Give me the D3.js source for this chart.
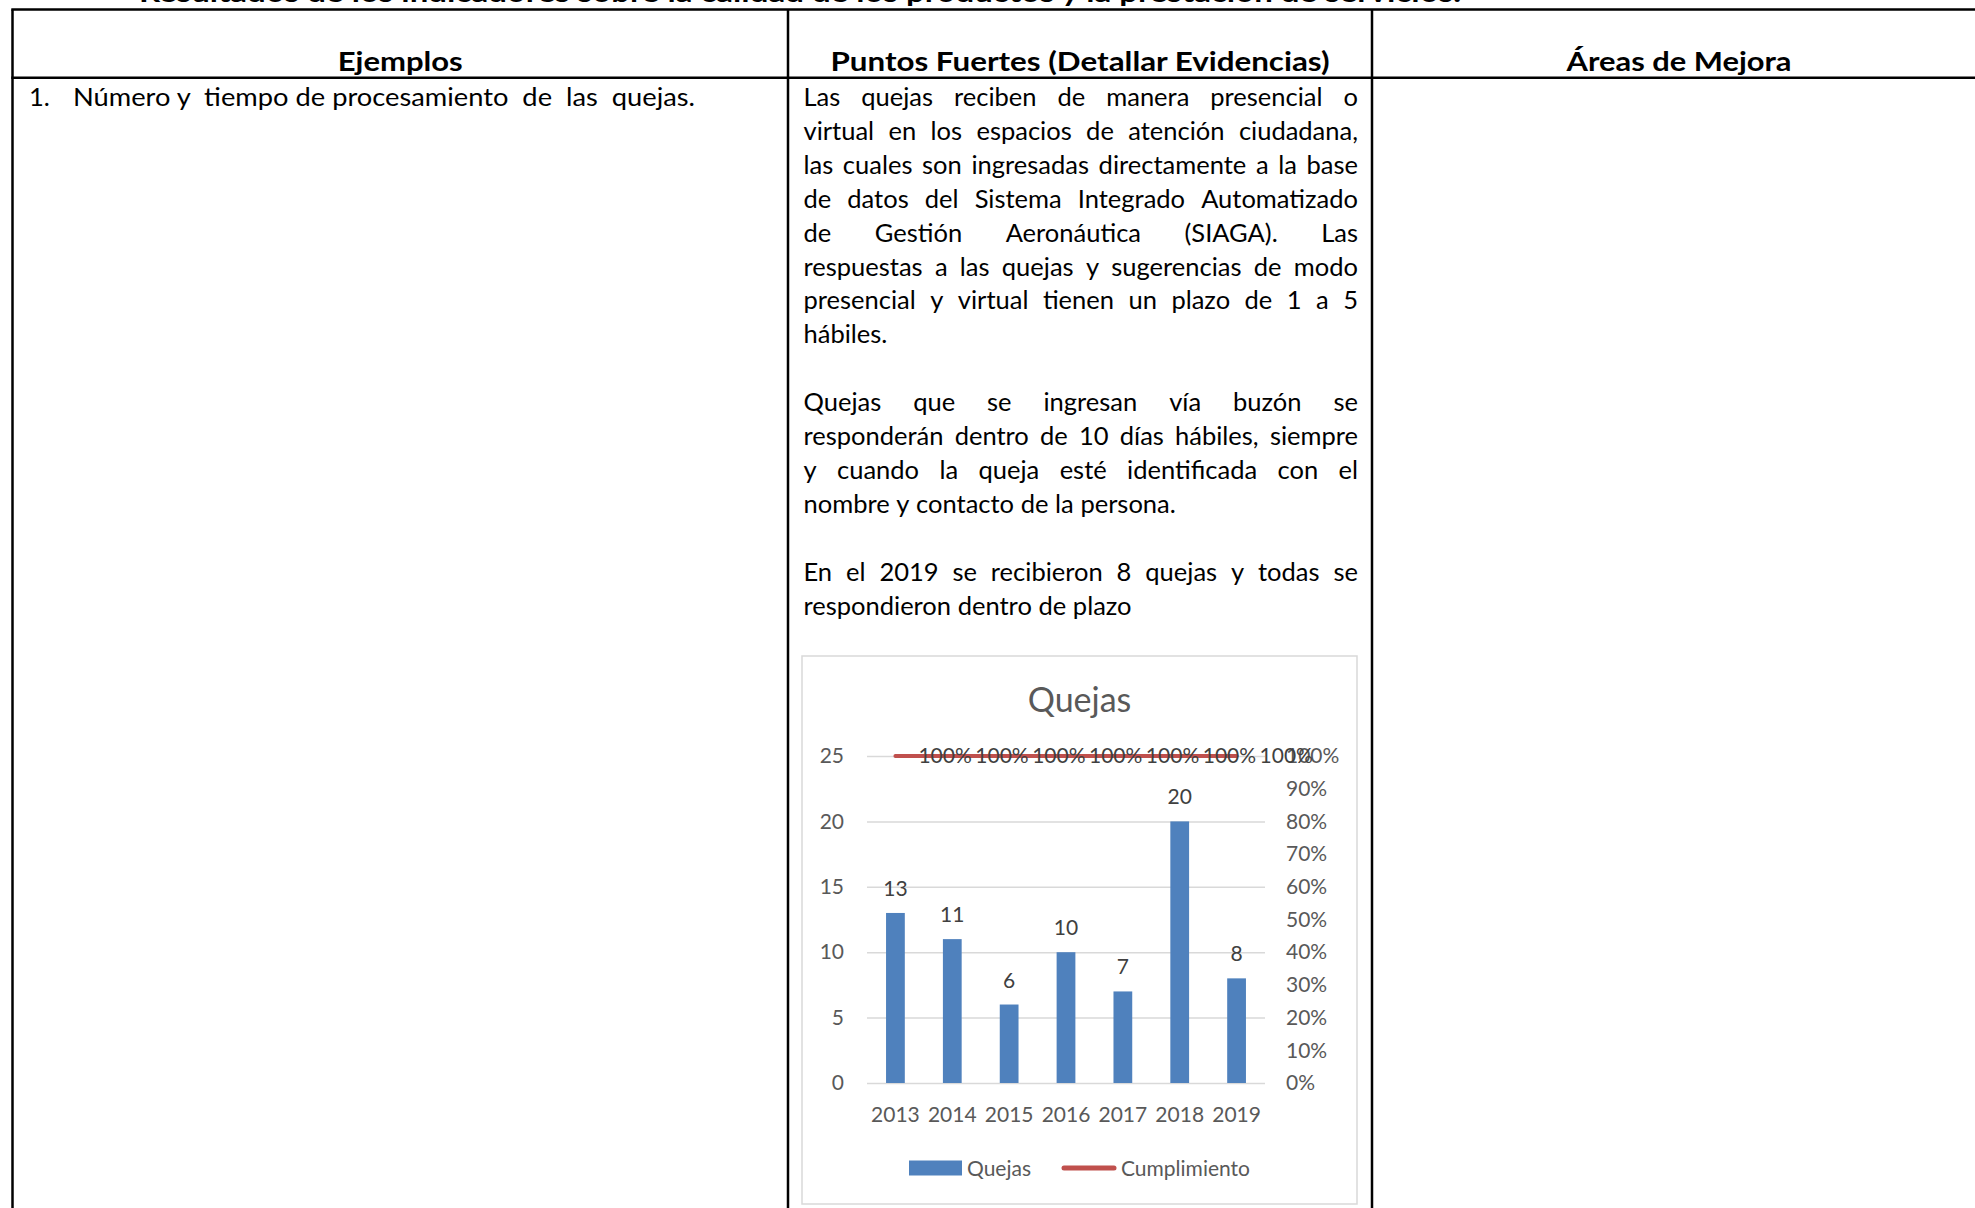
<!DOCTYPE html>
<html>
<head>
<meta charset="utf-8">
<script src="https://cdn.jsdelivr.net/npm/d3@7"></script>
<style>
  body { margin: 0; background: #fff; }
  svg { display: block; font-family: Lato, sans-serif; }
</style>
</head>
<body>
<div id="page"></div>
<script>
// chart data
const years = ['2013', '2014', '2015', '2016', '2017', '2018', '2019']
const quejas = [13, 11, 6, 10, 7, 20, 8]
const cumplimiento = [1, 1, 1, 1, 1, 1, 1]
const leftTicks = [0, 5, 10, 15, 20, 25]
const rightTicks = [0, 0.1, 0.2, 0.3, 0.4, 0.5, 0.6, 0.7, 0.8, 0.9, 1]
const seriesNames = ['Quejas', 'Cumplimiento']

// table text
const topTitle = 'Resultados de los indicadores sobre la calidad de los productos y la prestación de servicios.'
const headers = ['Ejemplos', 'Puntos Fuertes (Detallar Evidencias)', 'Áreas de Mejora']
const itemNumber = '1.'
const itemText = 'Número y  tiempo de procesamiento  de  las  quejas.'
const paragraphs = [
  ['Las quejas reciben de manera presencial o',
   'virtual en los espacios de atención ciudadana,',
   'las cuales son ingresadas directamente a la base',
   'de datos del Sistema Integrado Automatizado',
   'de Gestión Aeronáutica (SIAGA). Las',
   'respuestas a las quejas y sugerencias de modo',
   'presencial y virtual tienen un plazo de 1 a 5',
   'hábiles.'],
  ['Quejas que se ingresan vía buzón se',
   'responderán dentro de 10 días hábiles, siempre',
   'y cuando la queja esté identificada con el',
   'nombre y contacto de la persona.'],
  ['En el 2019 se recibieron 8 quejas y todas se',
   'respondieron dentro de plazo']
]

const W = 1975, H = 1208
const svg = d3.select('#page').append('svg')
  .attr('width', W)
  .attr('height', H)

// table geometry
const colX = [12.5, 788, 1372, 1986]
const rowTop = 9.5
const headBottom = 77.7

// title cut by the top of the page
svg.append('text')
  .attr('x', 139)
  .attr('y', 2)
  .attr('font-weight', 700)
  .attr('font-size', 26)
  .attr('textLength', 1322)
  .attr('lengthAdjust', 'spacingAndGlyphs')
  .attr('fill', '#000')
  .text(topTitle)

// table lines
const grid = svg.append('g').attr('stroke', '#000').attr('stroke-width', 2.5)
grid.selectAll('.hline')
  .data([rowTop, headBottom])
  .enter().append('line')
  .attr('x1', colX[0] - 1.2).attr('x2', colX[3])
  .attr('y1', d => d).attr('y2', d => d)
grid.selectAll('.vline')
  .data(colX.slice(0, 3))
  .enter().append('line')
  .attr('x1', d => d).attr('x2', d => d)
  .attr('y1', rowTop).attr('y2', H)

// headers
const headWidths = [125, 499, 225]
svg.selectAll('.head')
  .data(headers)
  .enter().append('text')
  .attr('x', (d, i) => (colX[i] + colX[i + 1]) / 2 - headWidths[i] / 2)
  .attr('y', 71)
  .attr('font-weight', 700)
  .attr('font-size', 26)
  .attr('textLength', (d, i) => headWidths[i])
  .attr('lengthAdjust', 'spacingAndGlyphs')
  .text(d => d)

const bodySize = 25.5
const lineStep = 33.9
const firstBase = 106

// column 1
svg.append('text')
  .attr('x', 29).attr('y', firstBase)
  .attr('font-size', bodySize)
  .text(itemNumber)
svg.append('text')
  .attr('x', 73).attr('y', firstBase)
  .attr('font-size', bodySize)
  .attr('xml:space', 'preserve')
  .style('white-space', 'pre')
  .attr('textLength', 622)
  .attr('lengthAdjust', 'spacingAndGlyphs')
  .text(itemText)

// column 2, justified text
const body = svg.append('g').attr('font-size', bodySize).attr('fill', '#000')
const textLeft = 803.5, textRight = 1358

const justifyLine = (line, y, justify) => {
  const words = line.split(' ')
  const texts = words.map(w => body.append('text').attr('y', y).text(w))
  const widths = texts.map(t => t.node().getComputedTextLength())
  const total = d3.sum(widths)
  const space = bodySize * 0.26
  let gap = space
  if (justify && words.length > 1) gap = (textRight - textLeft - total) / (words.length - 1)
  let x = textLeft
  texts.forEach((t, i) => {
    t.attr('x', x)
    x += widths[i] + gap
  })
}

let lineIdx = 0
paragraphs.forEach(p => {
  p.forEach((line, i) => {
    justifyLine(line, firstBase + lineStep * lineIdx, i < p.length - 1)
    lineIdx++
  })
  lineIdx++ // blank line between paragraphs
})

// chart
const box = {x: 802, y: 656, w: 555, h: 548}
svg.append('rect')
  .attr('x', box.x).attr('y', box.y)
  .attr('width', box.w).attr('height', box.h)
  .attr('fill', '#fff')
  .attr('stroke', '#d9d9d9')
  .attr('stroke-width', 1.5)

svg.append('text')
  .attr('x', box.x + box.w / 2)
  .attr('y', 712)
  .attr('text-anchor', 'middle')
  .attr('font-size', 34)
  .attr('fill', '#595959')
  .text('Quejas')

const plot = {left: 867, right: 1265, top: 756, bottom: 1083}

const x = d3.scaleBand()
  .domain(years)
  .range([plot.left, plot.right])
  .padding(0)

const y = d3.scaleLinear()
  .domain([0, 25])
  .range([plot.bottom, plot.top])

const y2 = d3.scaleLinear()
  .domain([0, 1])
  .range([plot.bottom, plot.top])

// gridlines
svg.append('g')
  .attr('transform', `translate(${plot.left},0)`)
  .call(d3.axisLeft(y).tickValues(leftTicks).tickSize(-(plot.right - plot.left)).tickFormat(''))
  .call(g => g.select('.domain').remove())
  .call(g => g.selectAll('line').attr('stroke', '#d9d9d9').attr('stroke-width', 1.5))

const styleAxis = g => {
  g.select('.domain').remove()
  g.selectAll('text').attr('font-size', 21).attr('fill', '#595959').attr('font-family', 'Lato, sans-serif')
}

// left axis
svg.append('g')
  .attr('transform', `translate(${plot.left},0)`)
  .call(d3.axisLeft(y).tickValues(leftTicks).tickSize(0).tickPadding(23))
  .call(styleAxis)

// right axis
svg.append('g')
  .attr('transform', `translate(${plot.right},0)`)
  .call(d3.axisRight(y2).tickValues(rightTicks).tickSize(0).tickPadding(21).tickFormat(d3.format('.0%')))
  .call(styleAxis)

// bottom axis
svg.append('g')
  .attr('transform', `translate(0,${plot.bottom})`)
  .call(d3.axisBottom(x).tickSize(0).tickPadding(24))
  .call(styleAxis)

// bars
const barW = x.bandwidth() * 0.33
svg.selectAll('.bar')
  .data(quejas)
  .enter().append('rect')
  .attr('x', (d, i) => x(years[i]) + x.bandwidth() / 2 - barW / 2)
  .attr('y', d => y(d))
  .attr('width', barW)
  .attr('height', d => y(0) - y(d))
  .attr('fill', '#4f81bd')

svg.selectAll('.barLabel')
  .data(quejas)
  .enter().append('text')
  .attr('x', (d, i) => x(years[i]) + x.bandwidth() / 2)
  .attr('y', d => y(d) - 17)
  .attr('text-anchor', 'middle')
  .attr('font-size', 21)
  .attr('fill', '#404040')
  .text(d => d)

// cumplimiento line
const line = d3.line()
  .x((d, i) => x(years[i]) + x.bandwidth() / 2)
  .y(d => y2(d))

svg.append('path')
  .datum(cumplimiento)
  .attr('d', line)
  .attr('fill', 'none')
  .attr('stroke', '#c0504d')
  .attr('stroke-width', 4)
  .attr('stroke-linecap', 'round')

svg.selectAll('.lineLabel')
  .data(cumplimiento)
  .enter().append('text')
  .attr('x', (d, i) => x(years[i]) + x.bandwidth() / 2 + 23)
  .attr('y', d => y2(d) + 7)
  .attr('font-size', 21)
  .attr('fill', '#404040')
  .text(d => d3.format('.0%')(d))

// legend
const legY = 1168
const legend = svg.append('g').attr('font-size', 21).attr('fill', '#595959')
legend.append('rect')
  .attr('x', 909).attr('y', legY - 7.5)
  .attr('width', 53).attr('height', 15)
  .attr('fill', '#4f81bd')
legend.append('text')
  .attr('x', 967).attr('y', legY + 7.5)
  .text(seriesNames[0])
legend.append('line')
  .attr('x1', 1064).attr('x2', 1114)
  .attr('y1', legY).attr('y2', legY)
  .attr('stroke', '#c0504d')
  .attr('stroke-width', 5)
  .attr('stroke-linecap', 'round')
legend.append('text')
  .attr('x', 1121).attr('y', legY + 7.5)
  .text(seriesNames[1])
</script>
</body>
</html>
